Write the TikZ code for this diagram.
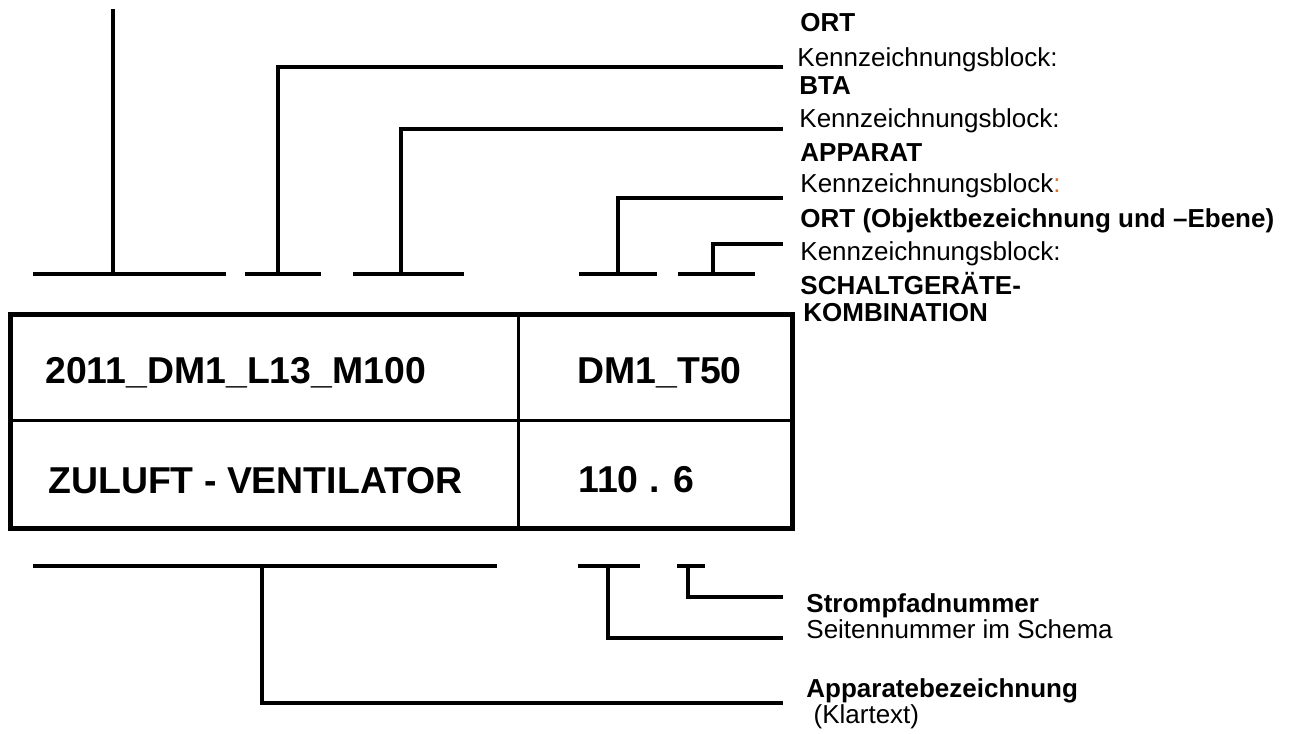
\documentclass[tikz,border=0pt]{standalone}
\usepackage{fontspec}
\setmainfont{Liberation Sans}
\definecolor{colonorange}{RGB}{222,112,42}
\tikzset{
  lbl/.style={anchor=base west, inner sep=0pt, font=\fontsize{13}{15}\selectfont},
  lblbf/.style={anchor=base west, inner sep=0pt, font=\fontsize{13}{15}\selectfont\bfseries},
  cell/.style={anchor=base west, inner sep=0pt, font=\fontsize{18.7}{21}\selectfont\bfseries},
  bar/.style={line width=2.35pt},
  lead/.style={line width=2.2pt},
}

\begin{document}
\begin{tikzpicture}[x=0.5pt,y=-0.5pt]
  \useasboundingbox (0,0) rectangle (1304,733);

  % Table
  \draw[line width=2.5pt] (10,314) rectangle (792,528);
  \draw[line width=1.5pt] (10,420) -- (792,420);
  \draw[line width=1.5pt] (518,314) -- (518,528);
  \node[cell] (kks) at (45,383) {2011\_DM1\_L13\_M100};
  \node[cell] (sgk) at (577,383) {DM1\_T50};
  \node[cell] (name) at (48,493) {ZULUFT - VENTILATOR};
  \node[cell] (path) at (578,492) {110 . 6};

  % Labels top
  \node[lblbf] (ort) at (800,32) {ORT};
  \node[lbl] (kb1) at (797,67) {Kennzeichnungsblock:};
  \node[lblbf] (bta) at (799,95) {BTA};
  \node[lbl] (kb2) at (799,127) {Kennzeichnungsblock:};
  \node[lblbf] (app) at (800,161) {APPARAT};
  \node[lbl] (kb3) at (800,192) {Kennzeichnungsblock\textcolor{colonorange}{:}};
  \node[lblbf] (obj) at (800,227) {ORT (Objektbezeichnung und –Ebene)};
  \node[lbl] (kb4) at (800,260) {Kennzeichnungsblock:};
  \node[lblbf] (sgk1) at (800,294) {SCHALTGERÄTE-};
  \node[lblbf] (sgk2) at (803,321) {KOMBINATION};

  % Labels bottom
  \node[lblbf] (strom) at (806,612) {Strompfadnummer};
  \node[lbl] (seite) at (806,638) {Seitennummer im Schema};
  \node[lblbf] (appbez) at (806,697) {Apparatebezeichnung};
  \node[lbl] (klar) at (806,723) {\ (Klartext)};

  % Bars above
  \draw[bar] (33,274) -- (226,274);
  \draw[bar] (245,274) -- (321,274);
  \draw[bar] (353,274) -- (464,274);
  \draw[bar] (579,274) -- (657,274);
  \draw[bar] (678,274) -- (755,274);

  % Leaders above
  \coordinate (tOrt) at (113,274);
  \coordinate (eOrt) at (113,9);
  \coordinate (tBta) at (278,274);
  \coordinate (eBta) at (783,67);
  \coordinate (tApp) at (401,274);
  \coordinate (eApp) at (783,129);
  \coordinate (tObj) at (618,274);
  \coordinate (eObj) at (783,198);
  \coordinate (tSgk) at (713,274);
  \coordinate (eSgk) at (783,244);
  \draw[bar] (tOrt) -- (eOrt);
  \draw[bar] (tBta) |- (eBta);
  \draw[bar] (tApp) |- (eApp);
  \draw[bar] (tObj) |- (eObj);
  \draw[bar] (tSgk) |- (eSgk);

  % Bars below
  \draw[bar] (33,566) -- (497,566);
  \draw[bar] (578,566) -- (640,566);
  \draw[bar] (677,566) -- (705,566);

  % Leaders below
  \coordinate (tName) at (262,566);
  \coordinate (eName) at (783,703);
  \coordinate (tSeite) at (608,566);
  \coordinate (eSeite) at (783,638);
  \coordinate (tStrom) at (688,566);
  \coordinate (eStrom) at (783,597);
  \draw[lead] (tName) |- (eName);
  \draw[lead] (tSeite) |- (eSeite);
  \draw[lead] (tStrom) |- (eStrom);
\end{tikzpicture}
\end{document}
